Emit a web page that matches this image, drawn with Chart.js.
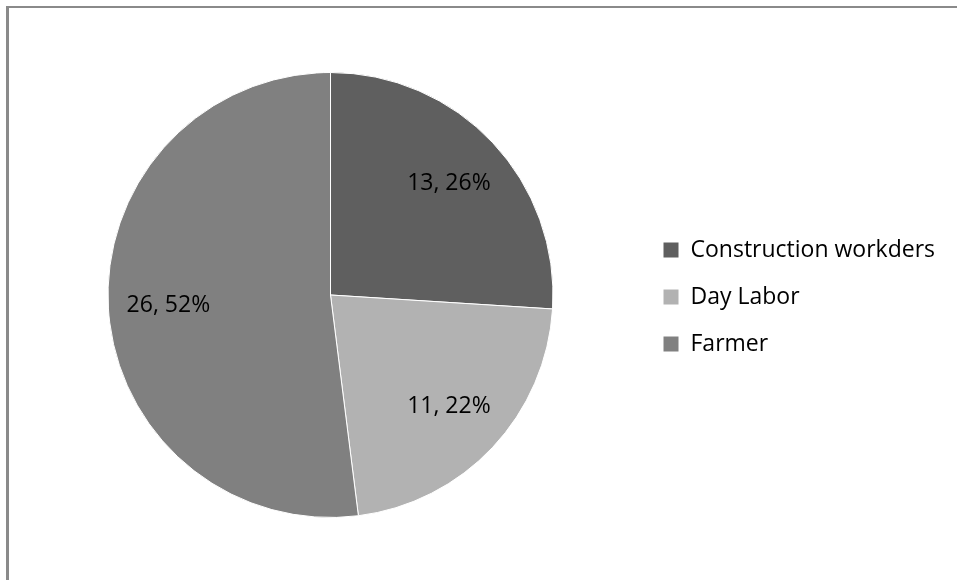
<!DOCTYPE html>
<html lang="en">
<head>
  <meta charset="UTF-8">
  <title>Occupation pie</title>
  <script src="https://cdn.jsdelivr.net/npm/chart.js"></script>
  <style>
    body { margin: 0; background: #fff; }
    #wrap { position: relative; width: 957px; height: 580px; overflow: hidden; }
    #frame { position: absolute; left: 6px; top: 6px; width: 1000px; height: 700px;
             border-top: 2px solid #8a8a8a; border-left: 3px solid #8a8a8a; }
    canvas { position: absolute; left: 0; top: 0; }
  </style>
</head>
<body>
  <div id="wrap">
    <div id="frame"></div>
    <canvas id="pieChart" width="957" height="580"></canvas>
  </div>

  <script>
    const categories = ["Construction workders", "Day Labor", "Farmer"];
    const counts = [13, 11, 26];
    const colors = ["#5f5f5f", "#b2b2b2", "#808080"];

    const FONT = "'Open Sans', sans-serif";

    // "value, pct%" inside each slice, a bit past half radius like Excel does
    const sliceLabels = {
      id: "sliceLabels",
      afterDatasetsDraw(chart) {
        const ctx = chart.ctx;
        const meta = chart.getDatasetMeta(0);
        const total = counts.reduce((a, b) => a + b, 0);
        ctx.save();
        ctx.font = "23px " + FONT;
        ctx.fillStyle = "#000";
        ctx.textAlign = "center";
        ctx.textBaseline = "middle";
        meta.data.forEach((arc, i) => {
          const mid = (arc.startAngle + arc.endAngle) / 2;
          const r = arc.outerRadius * 0.73;
          const pct = Math.round(counts[i] / total * 100);
          ctx.fillText(counts[i] + ", " + pct + "%", arc.x + Math.cos(mid) * r, arc.y + Math.sin(mid) * r);
        });
        ctx.restore();
      }
    };

    // move the legend box over to the right, away from the pie, and give it room
    const legendShift = {
      id: "legendShift",
      afterLayout(chart) {
        const lg = chart.legend;
        lg.left = 639;
        lg.right = chart.width;
        lg.width = lg.right - lg.left;
        lg.top += 2;
        lg.bottom += 2;
      }
    };

    new Chart(document.getElementById("pieChart"), {
      type: "pie",
      data: {
        labels: categories,
        datasets: [{
          data: counts,
          backgroundColor: colors,
          borderColor: "#fff",
          borderWidth: 1
        }]
      },
      options: {
        responsive: false,
        animation: false,
        layout: { padding: { left: 107, top: 72, bottom: 62, right: 113 } },
        plugins: {
          tooltip: { enabled: false },
          legend: {
            position: "right",
            maxWidth: 290,
            labels: {
              boxWidth: 16,
              boxHeight: 16,
              padding: 24,
              color: "#000",
              font: { family: FONT, size: 23 }
            }
          }
        }
      },
      plugins: [sliceLabels, legendShift]
    });
  </script>
</body>
</html>
